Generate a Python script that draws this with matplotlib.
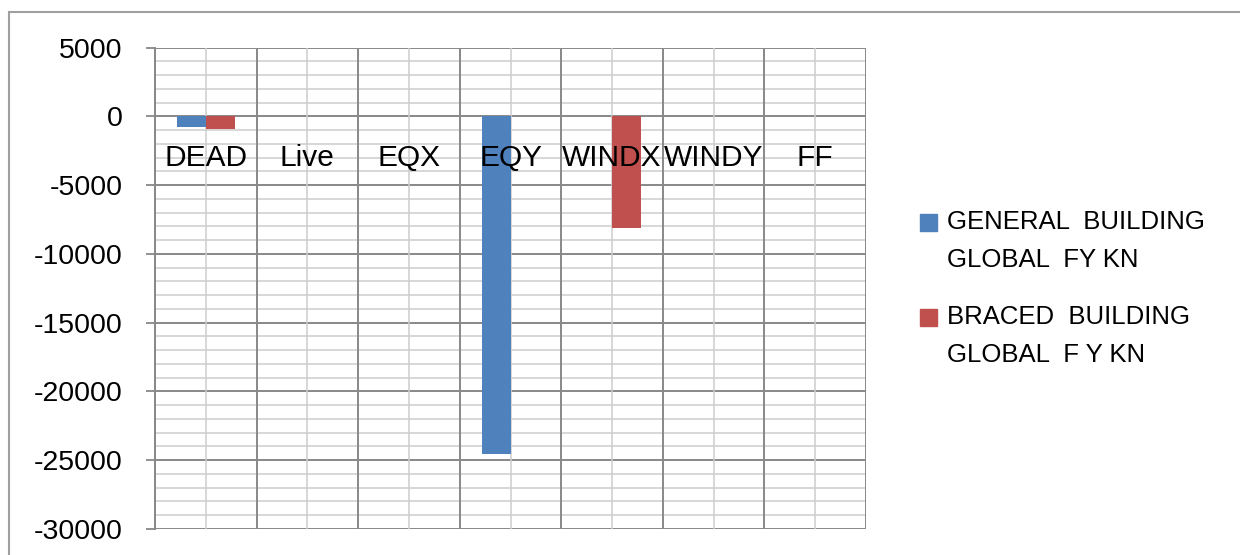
import matplotlib.pyplot as plt
from matplotlib.patches import Rectangle
from matplotlib.ticker import MultipleLocator
import numpy as np

plt.rcParams['font.family'] = ['Liberation Sans', 'DejaVu Sans']
plt.rcParams['axes.unicode_minus'] = False

# load cases and global FY reactions (kN)
cases = ['DEAD', 'Live', 'EQX', 'EQY', 'WINDX', 'WINDY', 'FF']
general_fy = [-750, 0, 0, -24550, 0, 0, 0]
braced_fy = [-950, 0, 0, 0, -8100, 0, 0]
series_names = [['GENERAL  BUILDING', 'GLOBAL  FY KN'], ['BRACED  BUILDING', 'GLOBAL  F Y KN']]
colors = ['#4F81BD', '#C0504D']

fig = plt.figure(figsize=(12.4, 5.55), dpi=100)
ax = fig.add_axes([155 / 1240, 26 / 555, 711 / 1240, 481.5 / 555])

x = np.arange(len(cases))
w = 0.285
ax.bar(x - w / 2, general_fy, w, color=colors[0], zorder=3)
ax.bar(x + w / 2, braced_fy, w, color=colors[1], zorder=3)

ax.set_xlim(-0.5, len(cases) - 0.5)
ax.set_ylim(-30000, 5000)

# excel-like grid: major every 5000, minor every 1000, verticals every half category
ax.yaxis.set_major_locator(MultipleLocator(5000))
for v in np.arange(-30000, 5001, 1000):
    major = v % 5000 == 0
    ax.axhline(v, color='#888888' if major else '#cdcdcd', lw=1.4 if major else 1.1, zorder=1)
for b in np.arange(-0.5, len(cases), 0.5):
    major = (b + 0.5) % 1 == 0
    ax.axvline(b, color='#888888' if major else '#cdcdcd', lw=1.4 if major else 1.1, zorder=1)

ax.set_xticks([])
ax.tick_params(axis='y', which='major', length=6.5, width=1.3, color='#888888',
               labelsize=20.5, pad=17)
for s in ['top', 'right', 'bottom']:
    ax.spines[s].set_visible(False)
ax.spines['left'].set_color('#888888')
ax.spines['left'].set_linewidth(1.4)

# category labels sit just under the zero line
for i, c in enumerate(cases):
    ax.annotate(c, xy=(i, 0), xytext=(0, -42), textcoords='offset pixels',
                ha='center', va='center', fontsize=21.5, zorder=4)

# hand-placed legend
leg_y = [222, 317]
for lines, col, yy in zip(series_names, colors, leg_y):
    fig.patches.append(Rectangle((920 / 1240, 1 - (yy + 8.5) / 555), 17 / 1240, 17 / 555,
                                 transform=fig.transFigure, color=col))
    for k, line in enumerate(lines):
        fig.text(947 / 1240, 1 - (yy + 38 * k) / 555, line, fontsize=18.5,
                 va='center', ha='left')

# outer chart border
fig.patches.append(Rectangle((8.5 / 1240, -0.1), 1.2, 1 - 12 / 555 + 0.1,
                             transform=fig.transFigure, fill=False,
                             edgecolor='#a0a0a0', lw=1.5))

fig.savefig('out.png', dpi=100)
